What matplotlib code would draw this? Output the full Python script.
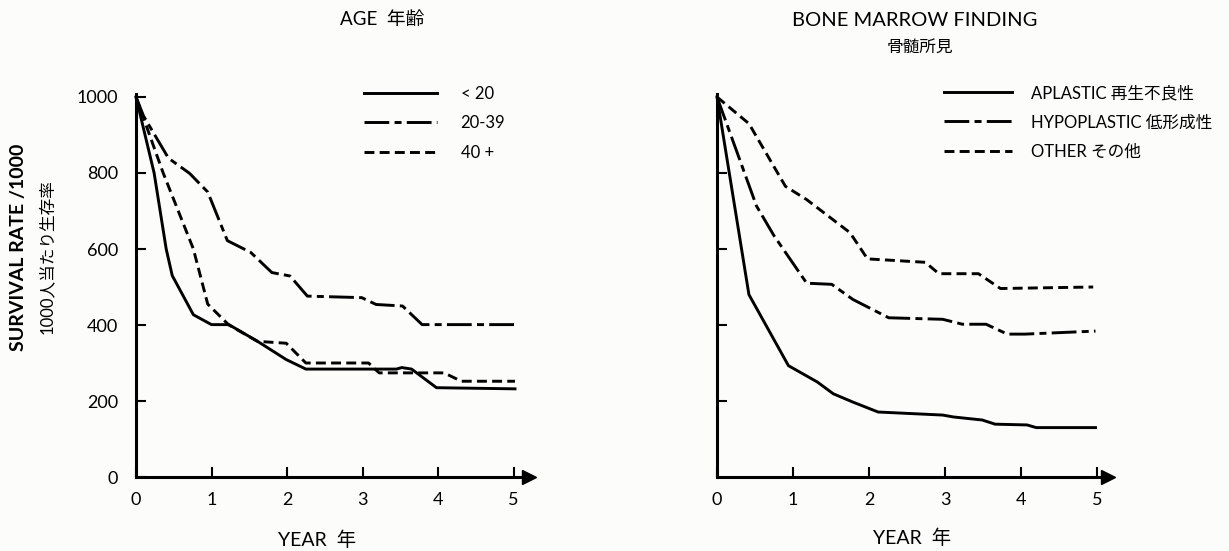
import matplotlib
matplotlib.use("Agg")
import matplotlib.pyplot as plt

plt.rcParams['font.family'] = ['Lato', 'Noto Sans CJK JP', 'DejaVu Sans']

# ---- data ----
# AGE panel
age_lt20_x = [0, 0.24, 0.40, 0.48, 0.76, 1.0, 1.23, 1.61, 1.99, 2.25, 3.45, 3.52, 3.65, 3.98, 5.02]
age_lt20_y = [1000, 800, 600, 530, 427, 401, 401, 357, 309, 284, 284, 288, 284, 235, 232]
age_2039_x = [0, 0.1, 0.43, 0.71, 0.95, 1.21, 1.52, 1.80, 2.04, 2.27, 2.99, 3.18, 3.53, 3.79, 5.02]
age_2039_y = [1000, 950, 839, 799, 750, 622, 591, 538, 529, 476, 472, 454, 450, 401, 401]
age_40_x = [0, 0.36, 0.76, 0.95, 1.23, 1.61, 1.99, 2.25, 3.08, 3.22, 4.08, 4.31, 5.02]
age_40_y = [1000, 800, 600, 455, 400, 357, 352, 300, 300, 274, 274, 252, 252]

# BONE MARROW panel
apl_x = [0, 0.42, 0.94, 1.32, 1.53, 1.79, 2.12, 2.97, 3.11, 3.49, 3.66, 4.08, 4.20, 4.98]
apl_y = [1000, 480, 293, 250, 219, 197, 171, 163, 158, 150, 139, 137, 130, 130]
hypo_x = [0, 0.52, 0.75, 1.18, 1.51, 1.79, 2.26, 2.97, 3.23, 3.54, 3.82, 4.05, 4.98]
hypo_y = [1000, 713, 635, 510, 507, 467, 419, 415, 402, 402, 376, 376, 384]
oth_x = [0, 0.42, 0.90, 1.18, 1.75, 1.98, 2.74, 2.92, 3.44, 3.73, 4.95]
oth_y = [1000, 930, 765, 730, 643, 574, 565, 535, 535, 496, 500]

xticks = [0, 1, 2, 3, 4, 5]
yticks = [0, 200, 400, 600, 800, 1000]
yticks_right = [200, 400, 600, 800]

age_labels = ["< 20", "20-39", "40 +"]
bm_labels = ["APLASTIC 再生不良性", "HYPOPLASTIC 低形成性", "OTHER その他"]

# line styles
lw = 2.1
solid = '-'
dashdot = (0, (8.5, 1.8, 2.4, 1.8))
dashed = (0, (3.4, 1.8))

fig = plt.figure(figsize=(12.29, 5.51), dpi=100)
fig.patch.set_facecolor('#fcfcfa')

W, H = 1229, 551
ax1 = fig.add_axes([136 / W, (H - 477) / H, 5.2 * 75.5 / W, 380 / H])
ax2 = fig.add_axes([717 / W, (H - 477) / H, 5.15 * 76 / W, 380 / H])


def style_axis(ax, xmax):
    ax.set_facecolor('none')
    ax.set_xlim(0, xmax)
    ax.set_ylim(0, 1000)
    for s in ['top', 'right']:
        ax.spines[s].set_visible(False)
    ax.spines['left'].set_linewidth(2.2)
    ax.spines['bottom'].set_linewidth(2.2)
    ax.spines['left'].set_bounds(0, 1008)
    ax.set_xticks(xticks)
    ax.tick_params(direction='in', length=7, width=1.5, labelsize=13, pad=11)
    ax.tick_params(axis='y', pad=13)
    # arrow at the end of the x axis
    ax.plot(1, 0, '>', color='k', ms=10, transform=ax.get_yaxis_transform(), clip_on=False)


style_axis(ax1, 5.2)
style_axis(ax2, 5.15)
ax1.set_yticks(yticks)
ax2.set_yticks(yticks_right)
ax2.set_yticklabels([])

kw = dict(color='k', lw=lw, clip_on=False, solid_joinstyle='round')
ax1.plot(age_lt20_x, age_lt20_y, linestyle=solid, label=age_labels[0], **kw)
ax1.plot(age_2039_x, age_2039_y, linestyle=dashdot, label=age_labels[1], **kw)
ax1.plot(age_40_x, age_40_y, linestyle=dashed, label=age_labels[2], **kw)

ax2.plot(apl_x, apl_y, linestyle=solid, label=bm_labels[0], **kw)
ax2.plot(hypo_x, hypo_y, linestyle=dashdot, label=bm_labels[1], **kw)
ax2.plot(oth_x, oth_y, linestyle=dashed, label=bm_labels[2], **kw)

leg_kw = dict(frameon=False, fontsize=12, labelspacing=0.8, borderaxespad=0, borderpad=0)
ax1.legend(loc='upper left', bbox_to_anchor=(364 / W, 1 - 86 / H),
           bbox_transform=fig.transFigure, handlelength=4.4, handletextpad=1.4, **leg_kw)
ax2.legend(loc='upper left', bbox_to_anchor=(944 / W, 1 - 85 / H),
           bbox_transform=fig.transFigure, handlelength=4.1, handletextpad=1.1, **leg_kw)

# titles and axis labels
fig.text(382 / W, 1 - 20 / H, "AGE  年齢", ha='center', va='center', fontsize=13.5)
fig.text(915 / W, 1 - 20 / H, "BONE MARROW FINDING", ha='center', va='center', fontsize=14.5)
fig.text(920 / W, 1 - 47 / H, "骨髄所見", ha='center', va='center', fontsize=12)

fig.text(19 / W, 1 - 247 / H, "SURVIVAL RATE /1000", rotation=90,
         ha='center', va='center', fontsize=14, fontweight='bold')
fig.text(47 / W, 1 - 257 / H, "1000人当たり生存率", rotation=90,
         ha='center', va='center', fontsize=12)

fig.text(317 / W, 1 - 540 / H, "YEAR  年", ha='center', va='center', fontsize=14)
fig.text(912 / W, 1 - 538 / H, "YEAR  年", ha='center', va='center', fontsize=14)

fig.savefig("out.png", dpi=100, facecolor=fig.get_facecolor())
